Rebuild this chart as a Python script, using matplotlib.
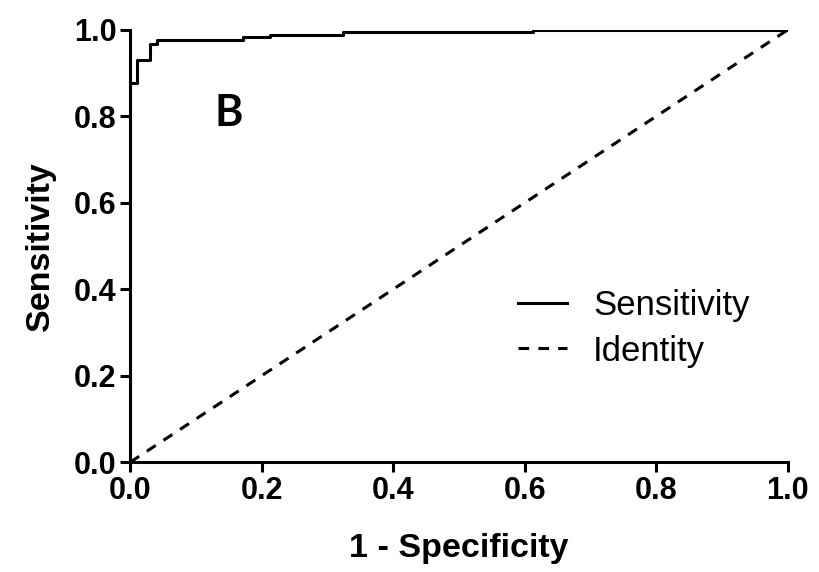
import matplotlib
matplotlib.use("Agg")
import matplotlib.pyplot as plt
import numpy as np

# ROC curve (step points)
fpr = [0.0, 0.0, 0.011, 0.03, 0.041, 0.171, 0.213, 0.324, 0.612, 1.0]
tpr = [0.0, 0.877, 0.93, 0.968, 0.976, 0.984, 0.989, 0.995, 1.0, 1.0]
identity_x = [0.0, 1.0]
identity_y = [0.0, 1.0]
ticks = [0.0, 0.2, 0.4, 0.6, 0.8, 1.0]
tick_labels = ["0.0", "0.2", "0.4", "0.6", "0.8", "1.0"]

plt.rcParams["font.family"] = ["Liberation Sans", "DejaVu Sans"]

fig = plt.figure(figsize=(8.19, 5.72), dpi=100)
ax = fig.add_axes([0.159, 0.192, 0.803, 0.756])

ax.plot(fpr, tpr, color="black", lw=2.2, drawstyle="steps-post", label="Sensitivity")
ax.plot(identity_x, identity_y, color="black", lw=2.2, ls=(0, (3.5, 3)), label="Identity")

ax.set_xlim(0, 1)
ax.set_ylim(0, 1)
ax.set_xticks(ticks)
ax.set_yticks(ticks)
ax.set_xticklabels(tick_labels, fontsize=22, fontweight="bold")
ax.set_yticklabels(tick_labels, fontsize=22, fontweight="bold")
ax.tick_params(direction="out", length=7, width=2.2, pad=3)

for s in ["top", "right"]:
    ax.spines[s].set_visible(False)
for s in ["left", "bottom"]:
    ax.spines[s].set_linewidth(2.2)

ax.set_xlabel("1 - Specificity", fontsize=24.5, fontweight="bold")
ax.set_ylabel("Sensitivity", fontsize=24.5, fontweight="bold")
ax.xaxis.set_label_coords(0.5, -0.199)
ax.yaxis.set_label_coords(-0.137, 0.5)
ax.xaxis.label.set_verticalalignment("center")
ax.yaxis.label.set_verticalalignment("center")

ax.text(0.15, 0.808, "B", fontsize=31, fontweight="bold", family="Lato",
        ha="center", va="center")

leg = ax.legend(loc="center left", bbox_to_anchor=(0.59, 0.309), frameon=False,
                fontsize=25, handlelength=1.41, handletextpad=0.75,
                labelspacing=0.35, borderpad=0, borderaxespad=0)

fig.savefig("out.png", dpi=100)
